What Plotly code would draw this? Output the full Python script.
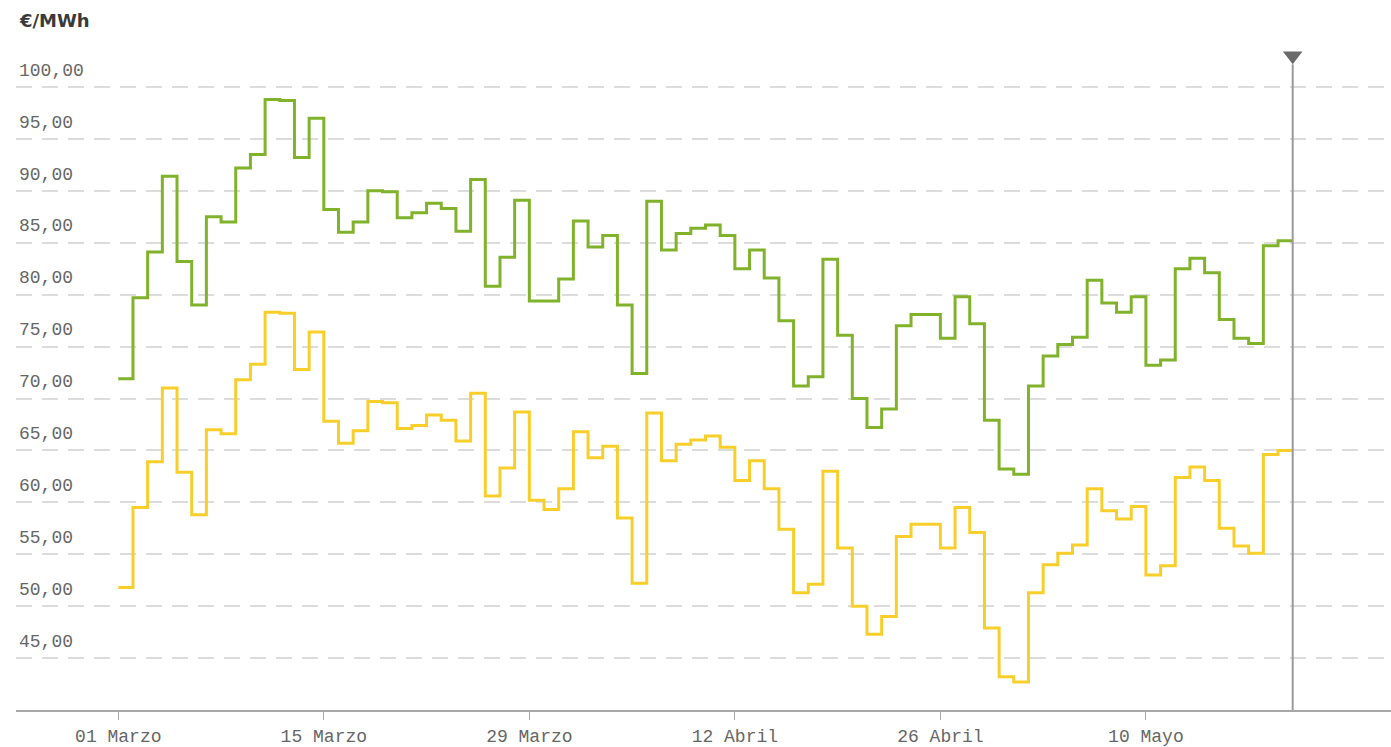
import pandas as pd
import plotly.graph_objects as go

# ---- data ----
start_date = "2022-03-01"
green_values = [
    71.9, 79.7, 84.1, 91.4, 83.2, 79.0, 87.5, 87.0, 92.2, 93.5,
    98.8, 98.7, 93.2, 97.0, 88.2, 86.0, 87.0, 90.0, 89.9, 87.4,
    87.9, 88.8, 88.3, 86.1, 91.1, 80.8, 83.6, 89.1, 79.4, 79.4,
    81.5, 87.1, 84.6, 85.7, 79.0, 72.4, 89.0, 84.3, 85.9, 86.4,
    86.7, 85.7, 82.5, 84.3, 81.6, 77.5, 71.2, 72.1, 83.4, 76.1,
    70.0, 67.2, 69.0, 77.0, 78.1, 78.1, 75.8, 79.8, 77.2, 67.9,
    63.2, 62.7, 71.2, 74.1, 75.2, 75.9, 81.4, 79.2, 78.3, 79.8,
    73.2, 73.7, 82.5, 83.5, 82.1, 77.6, 75.8, 75.3, 84.7, 85.2,
]
yellow_values = [
    51.8, 59.5, 63.9, 71.0, 62.9, 58.8, 67.0, 66.6, 71.8, 73.3,
    78.3, 78.2, 72.8, 76.4, 67.8, 65.7, 66.9, 69.7, 69.6, 67.1,
    67.4, 68.4, 67.9, 65.9, 70.5, 60.6, 63.3, 68.7, 60.2, 59.3,
    61.3, 66.8, 64.3, 65.4, 58.5, 52.2, 68.6, 64.0, 65.6, 66.0,
    66.4, 65.3, 62.1, 64.0, 61.3, 57.4, 51.3, 52.1, 63.0, 55.6,
    50.0, 47.3, 49.0, 56.7, 57.9, 57.9, 55.6, 59.5, 57.1, 47.9,
    43.2, 42.7, 51.3, 54.0, 55.1, 55.9, 61.3, 59.2, 58.4, 59.6,
    53.0, 53.9, 62.4, 63.4, 62.1, 57.5, 55.8, 55.1, 64.6, 65.0,
]
tick_dates = ["2022-03-01", "2022-03-15", "2022-03-29", "2022-04-12", "2022-04-26", "2022-05-10"]
tick_labels = ["01 Marzo", "15 Marzo", "29 Marzo", "12 Abril", "26 Abril", "10 Mayo"]
y_ticks = [45, 50, 55, 60, 65, 70, 75, 80, 85, 90, 95, 100]
y_tick_labels = [f"{v:.2f}".replace(".", ",") for v in y_ticks]
marker_date = "2022-05-20"
unit_label = "€/MWh"

# ---- build ----
dates = pd.date_range(start_date, periods=len(green_values) + 1, freq="D")
g_step = green_values + [green_values[-1]]
y_step = yellow_values + [yellow_values[-1]]

W, H = 1391, 747
left, right, top, bottom = 16, 0, 45, 37
plot_h = H - top - bottom
px_per_unit = (710 - 87) / 60.0
y_min = 40
y_max = y_min + plot_h / px_per_unit

day_px = 14.68
x0 = pd.Timestamp(start_date) - pd.Timedelta(days=(118.3 - left) / day_px)
x1 = pd.Timestamp(start_date) + pd.Timedelta(days=(W - right - 118.3) / day_px)

mono = "Liberation Mono, DejaVu Sans Mono, monospace"

fig = go.Figure()
fig.add_trace(go.Scatter(
    x=dates, y=y_step, mode="lines", line=dict(shape="hv", color="#f8cf2a", width=3),
    hoverinfo="skip", showlegend=False))
fig.add_trace(go.Scatter(
    x=dates, y=g_step, mode="lines", line=dict(shape="hv", color="#80b32b", width=3),
    hoverinfo="skip", showlegend=False))

fig.add_shape(type="line", xref="x", yref="y", x0=marker_date, x1=marker_date,
              y0=y_min, y1=102.2, line=dict(color="#9a9a9a", width=2), layer="above")
fig.add_trace(go.Scatter(
    x=[marker_date], y=[103.0], mode="markers",
    marker=dict(symbol="triangle-down", size=17, color="#6a6a6a"),
    cliponaxis=False, hoverinfo="skip", showlegend=False))

fig.add_annotation(text=unit_label, xref="paper", yref="paper", x=0, y=1, xshift=1, yshift=25,
                   xanchor="left", yanchor="middle", showarrow=False,
                   font=dict(family="DejaVu Sans", size=18, color="#3a3a3a", weight="bold"))

fig.update_layout(
    width=W, height=H,
    margin=dict(l=left, r=right, t=top, b=bottom, pad=0),
    paper_bgcolor="white", plot_bgcolor="white",
    xaxis=dict(
        range=[x0, x1], tickvals=tick_dates, ticktext=tick_labels,
        showgrid=False, zeroline=False, showline=True, linecolor="#a8a8a8", linewidth=2,
        ticks="outside", ticklen=8, tickwidth=1, tickcolor="#a8a8a8",
        tickfont=dict(family=mono, size=18, color="#666666"),
    ),
    yaxis=dict(
        range=[y_min, y_max], tickvals=y_ticks, ticktext=y_tick_labels,
        showgrid=True, gridcolor="#dcdcdc", gridwidth=1.5, griddash="16px,10px",
        zeroline=False, showline=False, ticks="",
        ticklabelposition="inside top", ticklabelshift=-5,
        tickfont=dict(family=mono, size=18, color="#666666"),
    ),
)

fig.write_html(
    "out.html",
    config={"displayModeBar": False},
    post_script="document.body.style.margin='0';document.body.style.overflow='hidden';",
)
